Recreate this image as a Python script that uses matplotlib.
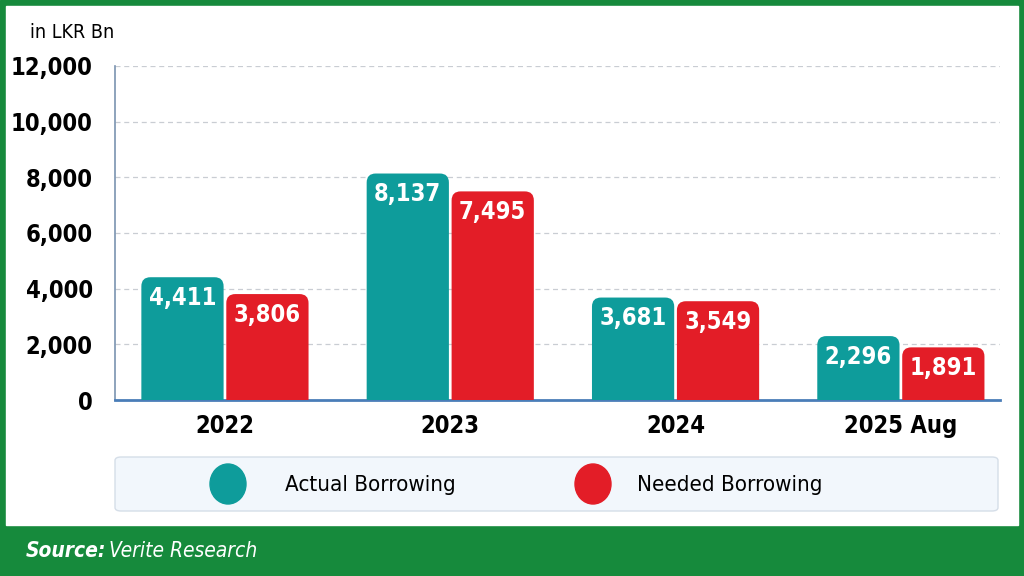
import numpy as np
import matplotlib.pyplot as plt
from matplotlib.patches import FancyBboxPatch, Rectangle, Ellipse

categories = ['2022', '2023', '2024', '2025 Aug']
actual = [4411, 8137, 3681, 2296]
needed = [3806, 7495, 3549, 1891]
series_names = ['Actual Borrowing', 'Needed Borrowing']
yticks = [0, 2000, 4000, 6000, 8000, 10000, 12000]

TEAL = '#0E9C9B'
RED = '#E31D27'
GREEN = '#168A3C'
plt.rcParams['font.family'] = ['DejaVu Sans']
plt.rcParams['font.stretch'] = 'condensed'

fig = plt.figure(figsize=(10.24, 5.76), dpi=100)
W, H = 1024, 576

# frame + footer band
fig.patches.append(Rectangle((0, 0), 1, 1, transform=fig.transFigure,
                             color=GREEN, zorder=0))
fig.patches.append(Rectangle((6 / W, 1 - 525 / H), 1012 / W, 519 / H,
                             transform=fig.transFigure, color='white', zorder=1))
fig.text(26 / W, 1 - 551 / H, 'Source:', color='white', fontsize=15,
         fontweight='bold', style='italic', va='center', ha='left', zorder=5)
fig.text(109 / W, 1 - 551 / H, 'Verite Research', color='white', fontsize=15,
         style='italic', va='center', ha='left', zorder=5)

ax = fig.add_axes([115 / W, 1 - 400 / H, 885 / W, 334 / H])
ax.set_zorder(2)
ax.patch.set_alpha(0)

x = np.arange(len(categories))
w = 0.365
gap = 0.012
ax.set_xlim(-0.488, 3.44)
ax.set_ylim(0, 12000)

# rounded bars
asp = (12000 / 334) / (3.928 / 885)
for vals, col, off in [(actual, TEAL, -(w + gap) / 2), (needed, RED, (w + gap) / 2)]:
    bars = ax.bar(x + off, vals, w, color='none')
    for b, v in zip(bars, vals):
        p = FancyBboxPatch((b.get_x(), -600), w, v + 600,
                           boxstyle='round,pad=0,rounding_size=0.04',
                           mutation_aspect=asp, facecolor=col, edgecolor='none',
                           zorder=3)
        ax.add_patch(p)
        ax.annotate(f'{v:,}', (b.get_x() + w / 2, v), xytext=(0, -15),
                    textcoords='offset points', ha='center', va='center',
                    color='white', fontsize=17, fontweight='bold', zorder=4)

ax.set_yticks(yticks)
ax.set_yticklabels([f'{t:,}' for t in yticks], fontsize=17, fontweight='bold')
ax.set_xticks(x)
ax.set_xticklabels(categories, fontsize=17, fontweight='bold')
ax.tick_params(length=0, pad=10)
ax.tick_params(axis='y', pad=16)
for t in yticks[1:]:
    ax.axhline(t, color='#C9CDD3', lw=0.9, ls=(0, (4, 3)), zorder=1)
for s in ['top', 'right']:
    ax.spines[s].set_visible(False)
ax.spines['left'].set_color('#7A93B0')
ax.spines['left'].set_linewidth(1.2)
ax.spines['bottom'].set_color('#4A7DB8')
ax.spines['bottom'].set_linewidth(2)

fig.text(30 / W, 1 - 33 / H, 'in LKR Bn', fontsize=14, va='center', ha='left',
         zorder=5)

# legend box
fig.patches.append(FancyBboxPatch((115 / W, 1 - 511 / H), 883 / W, 54 / H,
                                  boxstyle='round,pad=0,rounding_size=0.006',
                                  transform=fig.transFigure, facecolor='#F2F7FC',
                                  edgecolor='#D5DEE8', lw=1, zorder=2))
for name, col, cx, tx in [(series_names[0], TEAL, 228, 285),
                          (series_names[1], RED, 593, 637)]:
    fig.patches.append(Ellipse((cx / W, 1 - 484 / H), 36 / W, 40 / H,
                               transform=fig.transFigure, color=col, zorder=3))
    fig.text(tx / W, 1 - 485 / H, name, fontsize=16, va='center', ha='left',
             zorder=5)

fig.savefig('out.png', dpi=100)
